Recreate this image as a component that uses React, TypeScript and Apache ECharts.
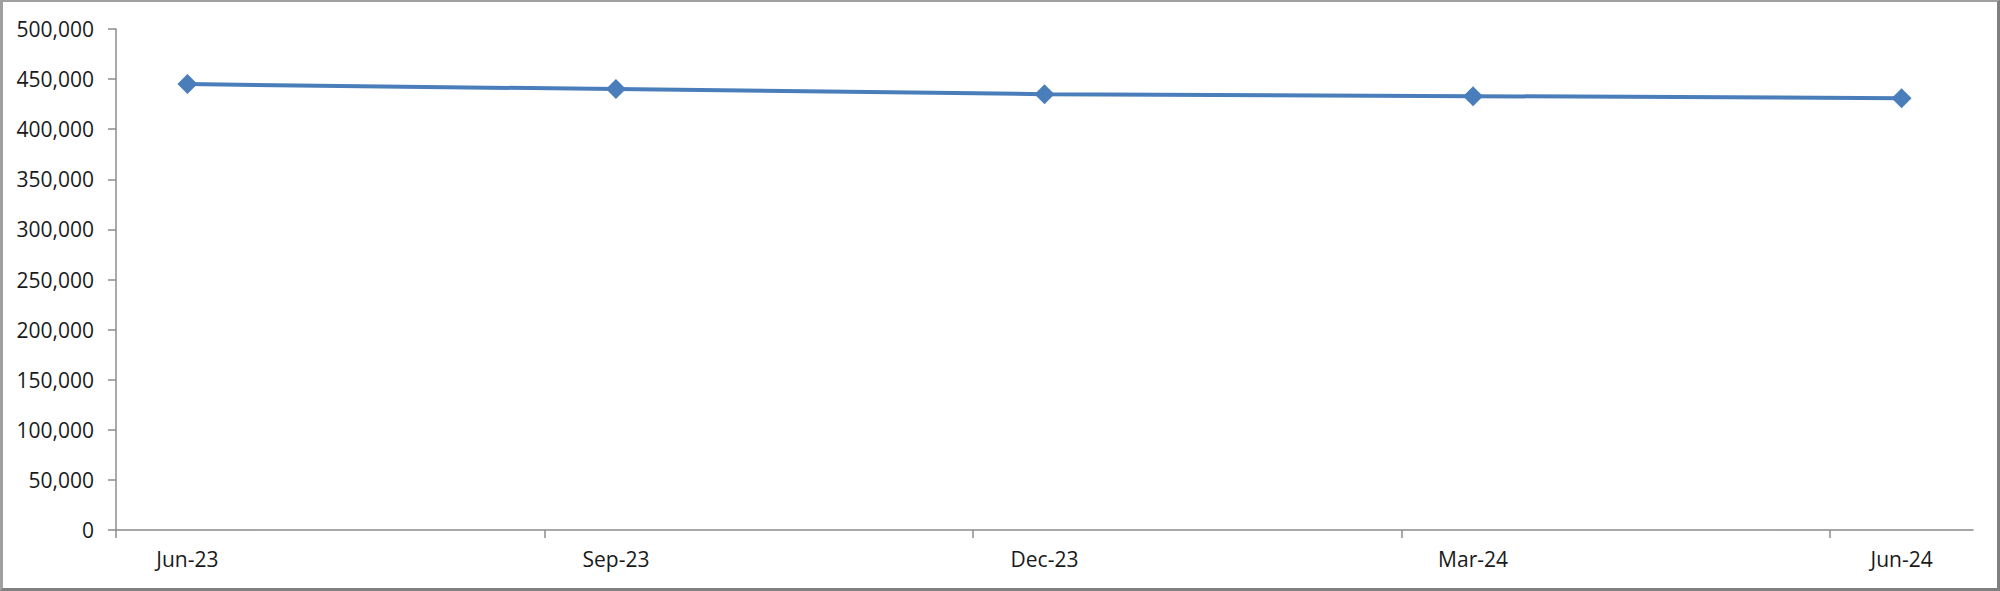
import React, { useEffect, useRef } from "react";
import * as echarts from "echarts";

const categories = ["Jun-23", "Sep-23", "Dec-23", "Mar-24", "Jun-24"];
const values = [445000, 440000, 435000, 433000, 431000];
const yMin = 0;
const yMax = 500000;
const yStep = 50000;

const MONTHS = ["Jan", "Feb", "Mar", "Apr", "May", "Jun", "Jul", "Aug", "Sep", "Oct", "Nov", "Dec"];
const monthIndex = (s: string) => {
  const [m, y] = s.split("-");
  return (2000 + parseInt(y, 10)) * 12 + MONTHS.indexOf(m);
};
const base = monthIndex(categories[0]);
const offsets = categories.map((c) => monthIndex(c) - base);
const labelPos = offsets.map((o) => o + 0.5);

export default function App() {
  const ref = useRef<HTMLDivElement>(null);
  useEffect(() => {
    if (!ref.current) return;
    const chart = echarts.init(ref.current, undefined, { renderer: "svg" });
    const font = "'Open Sans', sans-serif";
    chart.setOption({
      animation: false,
      backgroundColor: "#ffffff",
      grid: { left: 116, right: 27, top: 29, bottom: 61, containLabel: false },
      xAxis: {
        type: "value",
        min: 0,
        max: offsets[offsets.length - 1] + 1,
        axisLine: { show: true, lineStyle: { color: "#8c8c8c", width: 1.5 } },
        axisTick: { show: true, length: 8, customValues: offsets, lineStyle: { color: "#8c8c8c", width: 1.5 } },
        axisLabel: {
          show: true,
          customValues: labelPos,
          margin: 18,
          color: "#1a1a1a",
          fontFamily: font,
          fontSize: 21,
          formatter: (v: number) => {
            const i = labelPos.findIndex((p) => Math.abs(p - v) < 1e-6);
            return i >= 0 ? categories[i] : "";
          },
        },
        splitLine: { show: false },
      },
      yAxis: {
        type: "value",
        min: yMin,
        max: yMax,
        interval: yStep,
        axisLine: { show: true, lineStyle: { color: "#8c8c8c", width: 1.5 } },
        axisTick: { show: true, length: 8, lineStyle: { color: "#8c8c8c", width: 1.5 } },
        axisLabel: {
          margin: 22,
          color: "#1a1a1a",
          fontFamily: font,
          fontSize: 21,
          formatter: (v: number) => v.toLocaleString("en-US"),
        },
        splitLine: { show: false },
      },
      series: [
        {
          type: "line",
          data: values.map((v, i) => [labelPos[i], v]),
          symbol: "diamond",
          symbolSize: 20,
          showSymbol: true,
          lineStyle: { color: "#4a7ebb", width: 4 },
          itemStyle: { color: "#4a7ebb", borderWidth: 0 },
        },
      ],
    });
    return () => chart.dispose();
  }, []);
  return (
    <div style={{ position: "fixed", left: 0, top: 0, width: 2000, height: 591, background: "#fff" }}>
      <div ref={ref} style={{ position: "absolute", left: 0, top: 0, width: 2000, height: 591 }} />
      <div
        style={{
          position: "absolute",
          left: 0,
          top: 0,
          width: 2000,
          height: 591,
          boxSizing: "border-box",
          borderTop: "2px solid #a0a0a0",
          borderLeft: "3px solid #a0a0a0",
          borderRight: "3px solid #808080",
          borderBottom: "3px solid #808080",
          pointerEvents: "none",
        }}
      />
    </div>
  );
}
